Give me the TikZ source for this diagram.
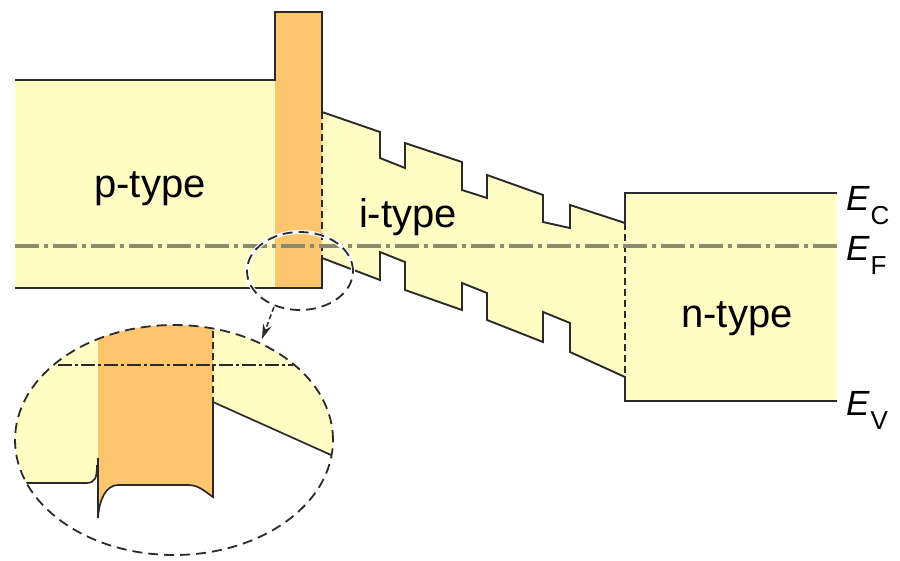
\documentclass[tikz,border=0pt]{standalone}
\usepackage{fontspec}
\setmainfont{Liberation Sans}
\usetikzlibrary{arrows.meta}
\definecolor{ylw}{HTML}{FFFCC4}
\definecolor{org}{HTML}{FCC56E}
\definecolor{efc}{HTML}{8A8A6C}
\definecolor{edge}{HTML}{2A2A2A}
\newcommand\elabel[1]{{\fontsize{35}{40}\selectfont\itshape E}\kern1pt\raisebox{-14pt}{\fontsize{26}{28}\selectfont #1}}
\begin{document}
\begin{tikzpicture}[x=1pt,y=-1pt,
  band/.style={draw=edge,line width=1.9pt,line join=miter},
  thindash/.style={draw=edge,line width=1.2pt,dash pattern=on 7pt off 4pt},
  fermi/.style={draw=efc,line width=3.5pt,dash pattern=on 24pt off 5pt on 4pt off 5pt},
  zoomring/.style={draw=edge,line width=1.8pt,dash pattern=on 10pt off 6pt},
  lbl/.style={font=\fontsize{40}{44}\selectfont,anchor=base,inner sep=0pt},
  elab/.style={anchor=base west,inner sep=0pt}]

\path[use as bounding box] (0,0) rectangle (900,560);

% band fills
\fill[ylw] (15,80) rectangle (275,288);
\fill[org] (275,12) rectangle (322,288);
\fill[ylw] (322,112) -- (380,132) -- (380,158) -- (405,168) -- (405,143) -- (462,162) -- (462,190) -- (487,198) -- (487,175) -- (543,195) -- (543,222) -- (570,228) -- (570,205) -- (625,223)
  -- (625,377) -- (570,352) -- (570,323) -- (543,312) -- (543,342) -- (487,320) -- (487,293) -- (462,283) -- (462,310) -- (405,290) -- (405,262) -- (380,252) -- (380,280) -- (322,258) -- cycle;
\fill[ylw] (625,193) rectangle (837,401);

% band edges
\draw[band] (15,80) -- (275,80) -- (275,12) -- (322,12) -- (322,112) -- (380,132) -- (380,158) -- (405,168) -- (405,143) -- (462,162) -- (462,190) -- (487,198) -- (487,175) -- (543,195) -- (543,222) -- (570,228) -- (570,205) -- (625,223) -- (625,193) -- (837,193);
\draw[band] (15,288) -- (322,288) -- (322,258) -- (380,280) -- (380,252) -- (405,262) -- (405,290) -- (462,310) -- (462,283) -- (487,293) -- (487,320) -- (543,342) -- (543,312) -- (570,323) -- (570,352) -- (625,377) -- (625,401) -- (837,401);
\draw[thindash] (322,112) -- (322,258);
\draw[thindash] (625,223) -- (625,377);
\draw[fermi] (15,246) -- (837,246);

% labels
\node[lbl] (pt) at (150,197) {p-type};
\node[lbl] (it) at (408,227) {i-type};
\node[lbl] (nt) at (737,327) {n-type};
\node[elab] (ec) at (846,210) {\elabel{C}};
\node[elab] (ef) at (846,260) {\elabel{F}};
\node[elab] (ev) at (846,415) {\elabel{V}};

% magnified view
\begin{scope}
\clip (174,440) ellipse [x radius=159pt, y radius=115pt];
\fill[ylw] (10,320) -- (98,320) -- (98,465) .. controls (97,478) and (95,483) .. (86,483) -- (10,483) -- cycle;
\fill[org] (98,320) -- (213,320) -- (213,497) .. controls (203,490) and (198,485) .. (188,485) -- (118,485) .. controls (106,485) and (99,500) .. (98,518) -- cycle;
\fill[ylw] (213,320) -- (340,320) -- (340,459) -- (213,402) -- cycle;
\draw[band,line width=1.7pt] (10,483) -- (86,483) .. controls (95,483) and (97,478) .. (97,465);
\draw[band,line width=1.7pt] (98,458) -- (98,518) .. controls (99,500) and (106,485) .. (118,485) -- (188,485) .. controls (198,485) and (203,490) .. (213,497) -- (213,402) -- (340,459);
\draw[thindash] (213,320) -- (213,402);
\draw[edge,line width=1.1pt,dash pattern=on 14pt off 3pt on 3pt off 3pt] (58,365) -- (293,365);
\end{scope}
\draw[zoomring] (174,440) ellipse [x radius=159pt, y radius=115pt];

% small ellipse and arrow
\draw[white,line width=4pt] (300,271) ellipse [x radius=53pt, y radius=39pt];
\draw[zoomring] (300,271) ellipse [x radius=53pt, y radius=39pt];
\coordinate (s) at (274,307);
\coordinate (t) at (262,339);
\draw[edge,line width=1.5pt,dash pattern=on 5pt off 3pt,-{Stealth[length=15pt,width=9pt]}] (s) -- (t);
\end{tikzpicture}
\end{document}
